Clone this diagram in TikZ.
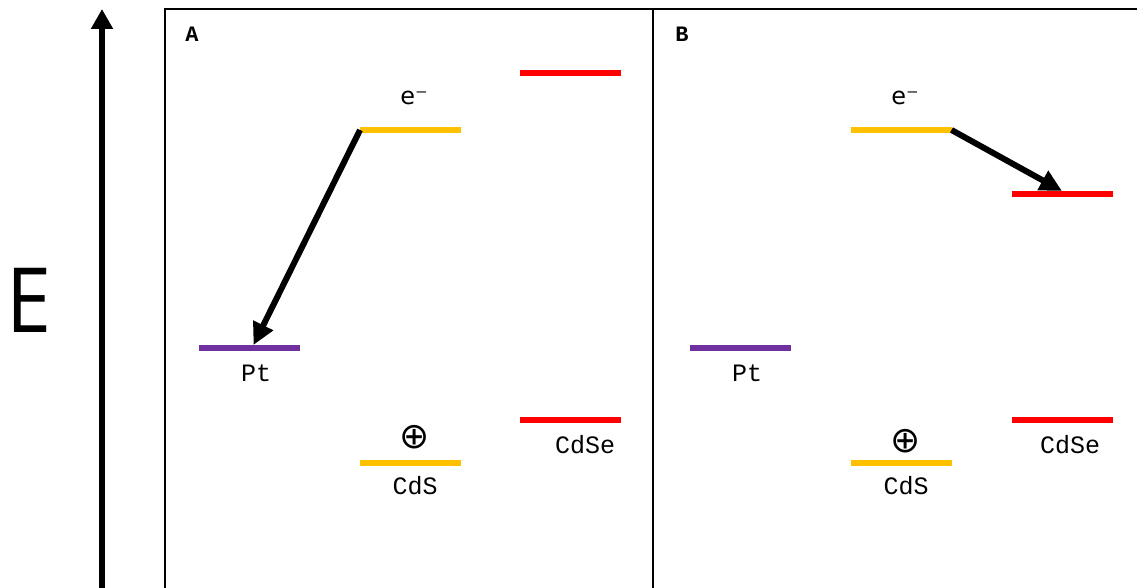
\documentclass[tikz,border=0pt]{standalone}
\usepackage{fontspec}
\setmonofont{Liberation Mono}
\newfontfamily\esans{Open Sans}
\newfontfamily\dejavu{DejaVu Sans}
\usetikzlibrary{arrows.meta}
\definecolor{lvlyellow}{HTML}{FFC000}
\definecolor{lvlred}{HTML}{FF0000}
\definecolor{lvlpurple}{HTML}{7030A0}
\begin{document}
\begin{tikzpicture}[x=1pt,y=-1pt,
  level/.style={minimum width=101pt, minimum height=6pt, inner sep=0pt, outer sep=0pt, fill=#1, draw=none},
  lbl/.style={font=\ttfamily\fontsize{25}{25}\selectfont, anchor=base, inner sep=0pt},
  panel/.style={font=\ttfamily\bfseries\fontsize{22}{22}\selectfont, anchor=base, inner sep=0pt},
  elbl/.style={font=\dejavu\fontsize{24}{24}\selectfont, anchor=base, inner sep=0pt},
  hlbl/.style={font=\dejavu\fontsize{36}{36}\selectfont, inner sep=0pt},
  frame/.style={line width=2pt},
  transfer/.style={line width=6pt, -{Triangle[length=22pt,width=21pt]}},
  energy/.style={line width=6.5pt, -{Triangle[length=20pt,width=21pt]}}
]
\useasboundingbox (0,0) rectangle (1137,588);
\clip (0,0) rectangle (1137,588);
% frame
\coordinate (fTL) at (165,9);
\coordinate (fTR) at (1140,9);
\coordinate (fBL) at (165,592);
\coordinate (fMT) at (653,9);
\coordinate (fMB) at (653,592);
\draw[frame] (fBL) -- (fTL) -- (fTR);
\draw[frame] (fMT) -- (fMB);
% energy axis
\coordinate (ebot) at (102,600);
\coordinate (etop) at (102,9);
\draw[energy] (ebot) -- (etop);
\node[font=\esans\fontsize{90}{90}\selectfont, inner sep=0pt, xscale=0.9] (E) at (29,300) {E};
% panel labels
\node[panel] (labA) at (192,42) {A};
\node[panel] (labB) at (682,42) {B};
% panel A levels
\node[level=lvlred] (rtA) at (570.5,73) {};
\node[level=lvlyellow] (ytA) at (410.5,130) {};
\node[level=lvlpurple] (ptA) at (249.5,348) {};
\node[level=lvlred] (rbA) at (570.5,419.5) {};
\node[level=lvlyellow] (ybA) at (410.5,463) {};
\node[elbl] (eA) at (414,105) {e⁻};
\node[hlbl] (hA) at (415,437) {⊕};
\node[lbl] (tPtA) at (256,381.5) {Pt};
\node[lbl] (tCdSA) at (415,494) {CdS};
\node[lbl] (tCdSeA) at (585,453) {CdSe};
\draw[transfer] (ytA.west) -- ([xshift=4pt]ptA.north);
% panel B levels
\node[level=lvlyellow] (ytB) at (901,130) {};
\node[level=lvlred] (rmB) at (1062,194) {};
\node[level=lvlpurple] (ptB) at (740.5,348) {};
\node[level=lvlred] (rbB) at (1062,419.5) {};
\node[level=lvlyellow] (ybB) at (901,463) {};
\node[elbl] (eB) at (905,105) {e⁻};
\node[hlbl] (hB) at (906,441) {⊕};
\node[lbl] (tPtB) at (747,381.5) {Pt};
\node[lbl] (tCdSB) at (906,494) {CdS};
\node[lbl] (tCdSeB) at (1070,453) {CdSe};
\draw[transfer] (ytB.east) -- (rmB.north);
\end{tikzpicture}
\end{document}
